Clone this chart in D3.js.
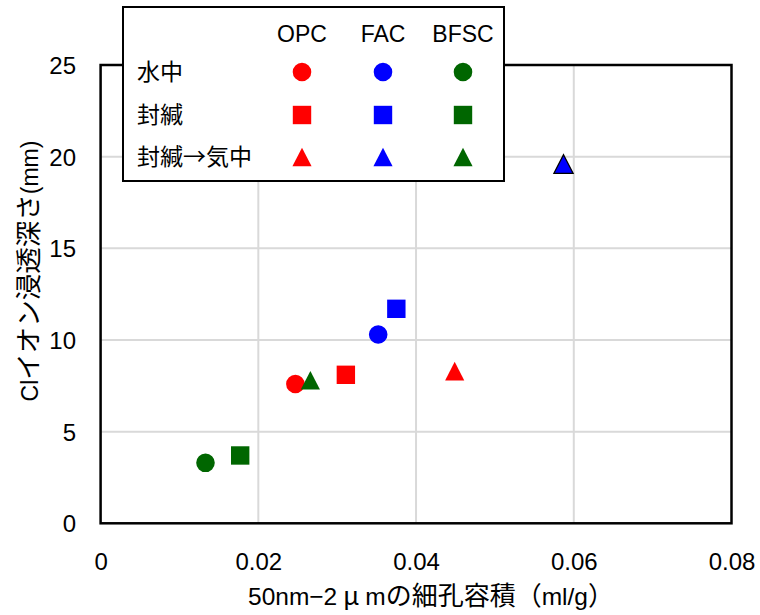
<!DOCTYPE html>
<html>
<head>
<meta charset="utf-8">
<script src="https://cdn.jsdelivr.net/npm/d3@7/dist/d3.min.js"></script>
<style>
  html, body { margin: 0; padding: 0; background: #ffffff; }
  svg { display: block; }
  .lat { font-family: "Liberation Sans", Arial, sans-serif; }
  .cjk { font-family: "Noto Sans CJK JP", "Noto Sans", sans-serif; }
</style>
</head>
<body>
<svg id="chart" width="760" height="615"></svg>
<script>
// Pore volume (50nm-2μm, ml/g) and Cl- penetration depth (mm) per binder,
// in curing order: 水中, 封緘, 封緘→気中
const curing = ["水中", "封緘", "封緘→気中"];
const binders = ["OPC", "FAC", "BFSC"];
const binderColors = ["#ff0000", "#0000ff", "#006600"];

const opcPore = [0.0247, 0.0311, 0.0449];
const opcDepth = [7.6, 8.1, 8.3];
const facPore = [0.0352, 0.0375, 0.0587];
const facDepth = [10.3, 11.7, 19.6];
const bfscPore = [0.0133, 0.0177, 0.0266];
const bfscDepth = [3.3, 3.7, 7.8];

const xTicks = [0, 0.02, 0.04, 0.06, 0.08];
const xTickLabels = ["0", "0.02", "0.04", "0.06", "0.08"];
const yTicks = [0, 5, 10, 15, 20, 25];
const yTickLabels = ["0", "5", "10", "15", "20", "25"];

// Axis titles split into runs so Latin and Japanese use their own fonts
const xTitleRuns = [["lat", "50nm\u22122"], ["cjk", "\u00a0μ\u00a0"], ["lat", "m"], ["cjk", "の細孔容積（"], ["lat", "ml/g"], ["cjk", "）"]];
const yTitleRuns = [["lat", "Cl"], ["cjk", "イオン浸透深さ"], ["lat", "(mm)"]];

const poreSeries = [opcPore, facPore, bfscPore];
const depthSeries = [opcDepth, facDepth, bfscDepth];

const svg = d3.select("#chart");
const plot = { left: 100.6, right: 731.5, top: 65, bottom: 523.3 };

const x = d3.scaleLinear().domain([0, 0.08]).range([plot.left, plot.right]);
const y = d3.scaleLinear().domain([0, 25]).range([plot.bottom, plot.top]);

// Isosceles triangle, width ≈ height, centred on its bounding box
const triangleShape = {
  draw(ctx, size) {
    const s = Math.sqrt(size);
    const h = s / 2;
    ctx.moveTo(0, -h);
    ctx.lineTo(h * 1.03, h);
    ctx.lineTo(-h * 1.03, h);
    ctx.closePath();
  }
};
const shapes = [d3.symbolCircle, d3.symbolSquare, triangleShape];
const shapeSizes = [Math.PI * 9.3 * 9.3, 18.4 * 18.4, 18.6 * 18.6];
const symbolPath = i => d3.symbol().type(shapes[i]).size(shapeSizes[i])();

// Grid lines
const grid = svg.append("g");
grid.selectAll("line.gx")
  .data(xTicks.slice(1, -1))
  .join("line")
  .attr("x1", d => x(d)).attr("x2", d => x(d))
  .attr("y1", plot.top).attr("y2", plot.bottom)
  .attr("stroke", "#d9d9d9").attr("stroke-width", 2);
grid.selectAll("line.gy")
  .data(yTicks.slice(1, -1))
  .join("line")
  .attr("x1", plot.left).attr("x2", plot.right)
  .attr("y1", d => y(d)).attr("y2", d => y(d))
  .attr("stroke", "#d9d9d9").attr("stroke-width", 2);

// Plot frame
svg.append("rect")
  .attr("x", plot.left).attr("y", plot.top)
  .attr("width", plot.right - plot.left).attr("height", plot.bottom - plot.top)
  .attr("fill", "none").attr("stroke", "#000").attr("stroke-width", 2.5);

// Axes (labels only; frame drawn above)
const xAxis = d3.axisBottom(x).tickValues(xTicks)
  .tickFormat((d, i) => xTickLabels[i]).tickSize(0).tickPadding(0);
const gx = svg.append("g").attr("transform", `translate(0,${plot.bottom})`).call(xAxis);
gx.select(".domain").remove();
gx.selectAll("text")
  .attr("class", "lat").attr("font-size", 24).attr("fill", "#000")
  .attr("dy", null).attr("y", 47);

const yAxis = d3.axisLeft(y).tickValues(yTicks)
  .tickFormat((d, i) => yTickLabels[i]).tickSize(0).tickPadding(0);
const gy = svg.append("g").attr("transform", "translate(76,0)").call(yAxis);
gy.select(".domain").remove();
gy.selectAll("text")
  .attr("class", "lat").attr("font-size", 24).attr("fill", "#000")
  .attr("dy", "0.35em").attr("x", 0);

// Axis titles
const xt = svg.append("text")
  .attr("x", 431).attr("y", 605)
  .attr("text-anchor", "middle");
xt.selectAll("tspan").data(xTitleRuns).join("tspan")
  .attr("class", d => d[0])
  .attr("font-size", d => d[0] === "cjk" ? 26 : 24.5)
  .text(d => d[1]);

const yt = svg.append("text")
  .attr("transform", "translate(38,271) rotate(-90)")
  .attr("text-anchor", "middle");
yt.selectAll("tspan").data(yTitleRuns).join("tspan")
  .attr("class", d => d[0])
  .attr("font-size", d => d[0] === "cjk" ? 26.5 : 23)
  .text(d => d[1]);

// Data points
binders.forEach((b, bi) => {
  const pts = poreSeries[bi].map((v, ci) => ({ px: v, py: depthSeries[bi][ci], ci }));
  svg.append("g").selectAll("path")
    .data(pts)
    .join("path")
    .attr("d", d => symbolPath(d.ci))
    .attr("transform", d => `translate(${x(d.px)},${y(d.py)})`)
    .attr("fill", binderColors[bi])
    .attr("stroke", d => (b === "FAC" && d.ci === 2) ? "#000" : "none")
    .attr("stroke-width", 1.3);
});

// Legend table: binders across, curing conditions down
const legend = svg.append("g");
legend.append("rect")
  .attr("x", 123).attr("y", 7).attr("width", 381).attr("height", 174)
  .attr("fill", "#fff").attr("stroke", "#000").attr("stroke-width", 2);

const colX = [302, 383, 463];
const rowY = [72, 115, 157];

legend.selectAll("text.hdr")
  .data(binders)
  .join("text")
  .attr("class", "lat")
  .attr("x", (d, i) => colX[i]).attr("y", 42)
  .attr("text-anchor", "middle")
  .attr("font-size", 23)
  .text(d => d);

legend.selectAll("text.row")
  .data(curing)
  .join("text")
  .attr("class", "cjk")
  .attr("x", 137).attr("y", (d, i) => rowY[i])
  .attr("dy", "0.36em")
  .attr("font-size", 23)
  .text(d => d);

binders.forEach((b, bi) => {
  legend.append("g").selectAll("path")
    .data(curing)
    .join("path")
    .attr("d", (d, ci) => symbolPath(ci))
    .attr("transform", (d, ci) => `translate(${colX[bi]},${rowY[ci]})`)
    .attr("fill", binderColors[bi]);
});
</script>
</body>
</html>
